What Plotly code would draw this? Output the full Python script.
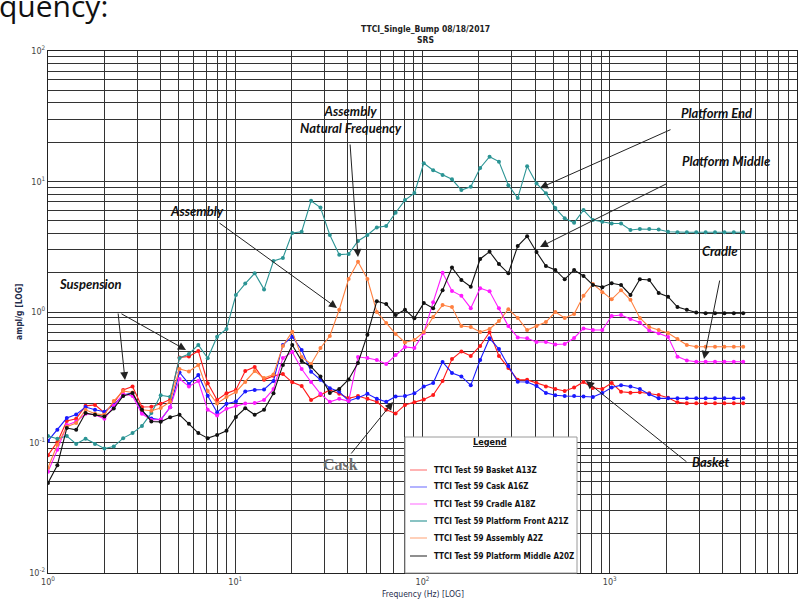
import plotly.graph_objects as go

# ---------------- data ----------------
FREQ_HZ = [1.000, 1.122, 1.260, 1.414, 1.587, 1.782, 2.000, 2.245, 2.520, 2.828,
           3.175, 3.564, 4.000, 4.490, 5.040, 5.657, 6.350, 7.127, 8.000, 8.980,
           10.08, 11.31, 12.70, 14.25, 16.00, 17.96, 20.16, 22.63, 25.40, 28.51,
           32.00, 35.92, 40.32, 45.25, 50.80, 57.02, 64.00, 71.84, 80.63, 90.51,
           101.6, 114.0, 128.0, 143.7, 161.3, 181.0, 203.2, 228.1, 256.0, 287.4,
           322.5, 362.0, 406.4, 456.1, 512.0, 574.7, 645.1, 724.1, 812.7, 912.3,
           1024, 1149, 1290, 1448, 1625, 1825, 2048, 2299, 2580, 2896,
           3251, 3649, 4096, 4598, 5161]

BASKET_A13Z = [0.080, 0.101, 0.146, 0.152, 0.191, 0.194, 0.169, 0.201, 0.253, 0.269,
               0.187, 0.188, 0.198, 0.214, 0.449, 0.456, 0.503, 0.285, 0.212, 0.238,
               0.253, 0.353, 0.379, 0.302, 0.324, 0.335, 0.289, 0.271, 0.212, 0.231,
               0.253, 0.236, 0.218, 0.227, 0.216, 0.205, 0.178, 0.167, 0.194, 0.203,
               0.214, 0.231, 0.296, 0.436, 0.499, 0.461, 0.549, 0.700, 0.461, 0.373,
               0.302, 0.302, 0.286, 0.269, 0.257, 0.248, 0.264, 0.291, 0.262, 0.257,
               0.286, 0.245, 0.241, 0.243, 0.238, 0.231, 0.220, 0.203, 0.200, 0.200,
               0.200, 0.200, 0.200, 0.200, 0.200]

CASK_A16Z = [0.103, 0.125, 0.154, 0.164, 0.187, 0.178, 0.172, 0.194, 0.231, 0.240,
             0.172, 0.153, 0.149, 0.186, 0.344, 0.281, 0.329, 0.228, 0.170, 0.198,
             0.206, 0.246, 0.253, 0.255, 0.296, 0.559, 0.647, 0.512, 0.349, 0.302,
             0.261, 0.245, 0.208, 0.220, 0.236, 0.216, 0.205, 0.225, 0.227, 0.238,
             0.269, 0.286, 0.414, 0.341, 0.321, 0.274, 0.429, 0.629, 0.521, 0.386,
             0.292, 0.291, 0.271, 0.240, 0.230, 0.227, 0.227, 0.225, 0.223, 0.239,
             0.264, 0.275, 0.269, 0.257, 0.234, 0.218, 0.218, 0.218, 0.218, 0.218,
             0.218, 0.218, 0.218, 0.218, 0.218]

CRADLE_A18Z = [0.0596, 0.0878, 0.136, 0.145, 0.166, 0.163, 0.152, 0.191, 0.236, 0.227,
               0.166, 0.149, 0.150, 0.186, 0.307, 0.269, 0.296, 0.178, 0.161, 0.181,
               0.191, 0.199, 0.201, 0.212, 0.257, 0.444, 0.494, 0.366, 0.291, 0.236,
               0.205, 0.216, 0.208, 0.452, 0.444, 0.429, 0.400, 0.469, 0.540, 0.530,
               0.690, 1.19, 2.00, 1.45, 1.33, 1.07, 1.52, 1.44, 1.07, 0.780,
               0.638, 0.629, 0.589, 0.589, 0.564, 0.569, 0.632, 0.748, 0.728, 0.728,
               0.932, 0.948, 0.884, 0.831, 0.722, 0.687, 0.644, 0.455, 0.425, 0.416,
               0.416, 0.416, 0.416, 0.416, 0.416]

PLATFORM_FRONT_A21Z = [0.112, 0.107, 0.112, 0.0975, 0.107, 0.0975, 0.090, 0.093, 0.108, 0.118,
                       0.134, 0.168, 0.230, 0.224, 0.444, 0.477, 0.559, 0.442, 0.647, 0.741,
                       1.35, 1.65, 1.98, 1.49, 2.46, 2.59, 4.03, 4.12, 7.11, 6.32,
                       3.89, 2.75, 2.78, 3.50, 3.89, 4.45, 4.56, 5.76, 7.20, 8.15,
                       13.8, 12.2, 11.2, 10.4, 8.59, 9.11, 12.7, 15.5, 14.2, 9.38,
                       7.46, 13.1, 9.67, 8.11, 6.26, 5.22, 4.83, 6.04, 5.06, 4.91,
                       4.77, 4.77, 4.25, 4.33, 4.33, 4.29, 4.12, 4.08, 4.08, 4.08,
                       4.08, 4.08, 4.08, 4.08, 4.08]

ASSEMBLY_A2Z = [0.064, 0.096, 0.132, 0.141, 0.178, 0.166, 0.163, 0.208, 0.248, 0.242,
                0.178, 0.175, 0.184, 0.205, 0.366, 0.350, 0.393, 0.248, 0.199, 0.223,
                0.244, 0.291, 0.353, 0.312, 0.332, 0.550, 0.707, 0.452, 0.400, 0.530,
                0.655, 1.04, 1.79, 2.43, 1.79, 1.00, 0.824, 0.679, 0.584, 0.610,
                0.703, 0.915, 1.13, 1.09, 0.781, 0.768, 0.703, 0.741, 0.853, 1.05,
                0.900, 0.728, 0.781, 0.838, 1.00, 0.900, 0.965, 1.33, 1.64, 1.42,
                1.25, 1.47, 1.24, 0.900, 0.768, 0.728, 0.691, 0.621, 0.559, 0.542,
                0.542, 0.542, 0.542, 0.542, 0.542]

PLATFORM_MIDDLE_A20Z = [0.049, 0.067, 0.129, 0.125, 0.168, 0.163, 0.158, 0.182, 0.227, 0.239,
                        0.178, 0.145, 0.144, 0.156, 0.163, 0.139, 0.118, 0.108, 0.114, 0.123,
                        0.157, 0.183, 0.163, 0.178, 0.238, 0.393, 0.559, 0.421, 0.381, 0.320,
                        0.240, 0.257, 0.304, 0.407, 0.670, 1.21, 1.15, 0.948, 1.04, 0.895,
                        1.17, 1.07, 1.47, 2.19, 1.76, 1.56, 2.55, 2.90, 2.33, 1.98,
                        3.20, 3.80, 2.88, 2.25, 2.10, 1.78, 2.10, 1.89, 1.61, 1.55,
                        1.66, 1.61, 1.35, 1.78, 1.76, 1.40, 1.31, 1.09, 1.04, 0.99,
                        0.98, 0.98, 0.98, 0.98, 0.98]

SERIES_NAMES = ["TTCI Test 59 Basket A13Z", "TTCI Test 59 Cask A16Z",
                "TTCI Test 59 Cradle A18Z", "TTCI Test 59 Platform Front A21Z",
                "TTCI Test 59 Assembly A2Z", "TTCI Test 59 Platform Middle A20Z"]
SERIES_VALUES = [BASKET_A13Z, CASK_A16Z, CRADLE_A18Z, PLATFORM_FRONT_A21Z,
                 ASSEMBLY_A2Z, PLATFORM_MIDDLE_A20Z]
SERIES_COLORS = ["#ff1a1a", "#1a1aff", "#ff1aff", "#2b9494", "#ff8040", "#111111"]
LEGEND_COLORS = ["#ff8080", "#8080ff", "#ff80ff", "#3a9a9a", "#ffb08a", "#444444"]

X_TICK_VALS = [1, 10, 100, 1000, 10000]
X_TICK_TEXT = ["10<sup>0</sup>", "10<sup>1</sup>", "10<sup>2</sup>", "10<sup>3</sup>", "10<sup>4</sup>"]
Y_TICK_VALS = [0.01, 0.1, 1, 10, 100]
Y_TICK_TEXT = ["10<sup>-2</sup>", "10<sup>-1</sup>", "10<sup>0</sup>", "10<sup>1</sup>", "10<sup>2</sup>"]
X_MINOR_VALS = [2, 3, 4, 5, 6, 7, 8, 9, 20, 30, 40, 50, 60, 70, 80, 90,
                200, 300, 400, 500, 600, 700, 800, 900, 2000, 3000, 4000, 5000, 6000, 7000, 8000, 9000]
Y_MINOR_VALS = [0.02, 0.03, 0.04, 0.05, 0.06, 0.07, 0.08, 0.09, 0.2, 0.3, 0.4, 0.5, 0.6, 0.7, 0.8, 0.9,
                2, 3, 4, 5, 6, 7, 8, 9, 20, 30, 40, 50, 60, 70, 80, 90]

# ---------------- layout geometry ----------------
W, H = 801, 607
ML, MR, MT, MB = 48, 4, 51, 34
PW, PH = W - ML - MR, H - MT - MB


def px(x):
    return (x - ML) / PW


def py(y):
    return (H - MB - y) / PH


NARROW = "Liberation Sans Narrow, Arial Narrow, DejaVu Sans Condensed, sans-serif"
LABEL_FONT = dict(family="Lato, Open Sans, sans-serif", size=13, color="#111111")

fig = go.Figure()
for name, vals, col in zip(SERIES_NAMES, SERIES_VALUES, SERIES_COLORS):
    fig.add_trace(go.Scatter(x=FREQ_HZ, y=vals, mode="lines+markers", name=name,
                             line=dict(color=col, width=1.1),
                             marker=dict(color=col, size=4), showlegend=False))

annotations = []
shapes = []


def label(text, x, y, font=LABEL_FONT):
    annotations.append(dict(text=text, x=px(x), y=py(y), xref="paper", yref="paper",
                            showarrow=False, font=font, xanchor="center", yanchor="middle"))


label("<b><i>Suspension</i></b>", 90, 284)
label("<b><i>Assembly</i></b>", 197, 211)
label("<b><i>Assembly<br>Natural Frequency</i></b>", 351, 119)
label("<b><i>Platform End</i></b>", 716, 113)
label("<b><i>Platform Middle</i></b>", 726, 161)
label("<b><i>Cradle</i></b>", 720, 251)
label("<b><i>Basket</i></b>", 710, 462)
label("<b>Cask</b>", 340, 464, dict(family="Liberation Serif, serif", size=16, color="#6e6e6e"))

# arrows: (head_x, head_y, tail_x, tail_y) in pixels
ARROWS = [(125, 380, 118, 312), (186, 350, 120, 313), (337, 308, 218, 222),
          (358, 257, 350, 143), (540, 188, 672, 129), (540, 247, 668, 183),
          (704, 359, 720, 279), (393, 402, 350, 455), (586, 381, 688, 463)]
for hx, hy, tx, ty in ARROWS:
    annotations.append(dict(text="", x=px(hx), y=py(hy), xref="paper", yref="paper",
                            showarrow=True, ax=tx - hx, ay=ty - hy, axref="pixel", ayref="pixel",
                            arrowhead=2, arrowsize=1.6, arrowwidth=1, arrowcolor="#222222",
                            standoff=0))

annotations.append(dict(text="<b>TTCI_Single_Bump 08/18/2017<br>SRS</b>", x=px(425), y=py(22),
                        xref="paper", yref="paper", showarrow=False,
                        font=dict(family=NARROW, size=8.5, color="#222222")))
annotations.append(dict(text="<b>ampl/g [LOG]</b>", x=px(12), y=py(312), xref="paper", yref="paper",
                        showarrow=False, textangle=-90,
                        font=dict(family=NARROW, size=8.5, color="#1f2d4d")))
annotations.append(dict(text="Frequency (Hz) [LOG]", x=px(423), y=py(601), xref="paper", yref="paper",
                        showarrow=False, font=dict(family=NARROW, size=8.5, color="#1f2d4d")))
# cropped document text at the very top of the picture
annotations.append(dict(text="quency:", x=px(-3), y=py(28), xref="paper", yref="paper",
                        xanchor="left", yanchor="bottom", showarrow=False,
                        font=dict(family="Open Sans, sans-serif", size=30, color="#111111")))

# custom legend box
shapes.append(dict(type="rect", xref="paper", yref="paper", x0=px(405), x1=px(577),
                   y0=py(573), y1=py(437), fillcolor="white", line=dict(color="#9a9a9a", width=1),
                   layer="above"))
annotations.append(dict(text="<b><u>Legend</u></b>", x=px(490), y=py(449), xref="paper", yref="paper",
                        showarrow=False, font=dict(family=NARROW, size=9, color="#111111")))
LEG_Y = [470, 487, 504, 521, 538, 556]
for name, col, yy in zip(SERIES_NAMES, LEGEND_COLORS, LEG_Y):
    shapes.append(dict(type="line", xref="paper", yref="paper", x0=px(410), x1=px(427),
                       y0=py(yy), y1=py(yy), line=dict(color=col, width=1.2), layer="above"))
    annotations.append(dict(text="<b>" + name + "</b>", x=px(432), y=py(yy), xref="paper", yref="paper",
                            xanchor="left", yanchor="middle", showarrow=False,
                            font=dict(family=NARROW, size=8, color="#111111")))

grid = "#333333"
fig.update_layout(
    width=W, height=H, margin=dict(l=ML, r=MR, t=MT, b=MB, autoexpand=False),
    paper_bgcolor="white", plot_bgcolor="white", showlegend=False,
    annotations=annotations, shapes=shapes,
    xaxis=dict(type="log", range=[0, 4], tickvals=X_TICK_VALS, ticktext=X_TICK_TEXT,
               showgrid=True, gridcolor=grid, gridwidth=1, zeroline=False,
               showline=True, mirror=True, linecolor="#222222", linewidth=1, ticks="",
               tickfont=dict(family=NARROW, size=9, color="#444444"), automargin=False,
               minor=dict(tickvals=X_MINOR_VALS, showgrid=True, gridcolor=grid, gridwidth=1, ticks="")),
    yaxis=dict(type="log", range=[-2, 2], tickvals=Y_TICK_VALS, ticktext=Y_TICK_TEXT,
               showgrid=True, gridcolor=grid, gridwidth=1, zeroline=False,
               showline=True, mirror=True, linecolor="#222222", linewidth=1, ticks="",
               tickfont=dict(family=NARROW, size=9, color="#444444"), automargin=False,
               minor=dict(tickvals=Y_MINOR_VALS, showgrid=True, gridcolor=grid, gridwidth=1, ticks="")),
)

fig.write_html("out.html", config={"displayModeBar": False},
               post_script="document.body.style.margin='0px';")
